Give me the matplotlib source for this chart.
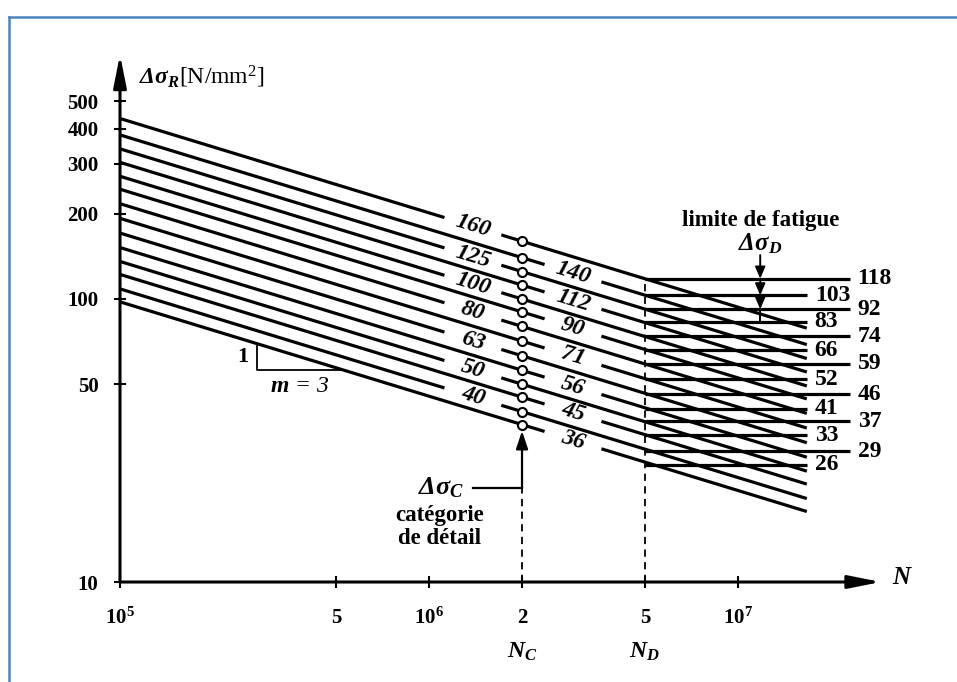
import numpy as np
import matplotlib
matplotlib.use("Agg")
import matplotlib.pyplot as plt
from matplotlib.lines import Line2D
from matplotlib.ticker import NullLocator, FixedLocator, FixedFormatter

plt.rcParams["font.family"] = ["Liberation Serif", "DejaVu Serif"]
plt.rcParams["mathtext.fontset"] = "custom"
plt.rcParams["mathtext.rm"] = "Liberation Serif"
plt.rcParams["mathtext.it"] = "Liberation Serif:italic"
plt.rcParams["mathtext.bf"] = "Liberation Serif:bold"
plt.rcParams["mathtext.bfit"] = "Liberation Serif:italic:bold"

# Detail categories (stress range at N_C) and fatigue limits (stress range at N_D), N/mm2
categories = [160, 140, 125, 112, 100, 90, 80, 71, 63, 56, 50, 45, 40, 36]
fatigue_limits = [118, 103, 92, 83, 74, 66, 59, 52, 46, 41, 37, 33, 29, 26]
left_labelled = [160, 125, 100, 80, 63, 50, 40]
right_labelled = [140, 112, 90, 71, 56, 45, 36]

x_ticks = [1e5, 5e5, 1e6, 2e6, 5e6, 1e7]
x_tick_labels = [r"$\mathbf{10^5}$", "5", r"$\mathbf{10^6}$", "2", "5", r"$\mathbf{10^7}$"]
y_ticks = [10, 50, 100, 200, 300, 400, 500]
y_tick_labels = ["10", "50", "100", "200", "300", "400", "500"]

N_START = 1e5      # start of the S-N lines
N_C = 2e6          # reference number of cycles
N_D = 5e6          # constant amplitude fatigue limit
N_END = 1.67e7     # end of sloped lines and short horizontals
N_LONG = 2.3e7     # end of long horizontals
m = 3              # slope of the S-N lines

LW = 2.3
GAP = 0.092        # half-width of label gaps, in decades


def sn(cat, n):
    return cat * (N_C / np.asarray(n, dtype=float)) ** (1.0 / m)


fig = plt.figure(figsize=(9.57, 6.82), dpi=100)
ax = fig.add_axes([120 / 957, 100 / 682, 772.5 / 957, 566 / 682])
ax.set_xscale("log")
ax.set_yscale("log")
ax.set_xlim(1e5, 10 ** 7.5)
ax.set_ylim(10, 1000)
for s in ax.spines.values():
    s.set_visible(False)
ax.xaxis.set_minor_locator(NullLocator())
ax.yaxis.set_minor_locator(NullLocator())
ax.xaxis.set_major_locator(FixedLocator(x_ticks))
ax.xaxis.set_major_formatter(FixedFormatter(x_tick_labels))
ax.yaxis.set_major_locator(FixedLocator(y_ticks))
ax.yaxis.set_major_formatter(FixedFormatter(y_tick_labels))
ax.tick_params(axis="both", direction="inout", length=9, width=1.5, labelsize=15)
ax.tick_params(axis="x", pad=14)
ax.tick_params(axis="y", pad=11)
for lab in ax.get_xticklabels() + ax.get_yticklabels():
    lab.set_fontweight("bold")

# axes drawn as arrows
arrow = dict(arrowstyle="-|>,head_length=1.4,head_width=0.28", mutation_scale=14,
             lw=2.2, color="k", shrinkA=0, shrinkB=0)
ax.annotate("", xy=(2.9e7, 10), xytext=(1e5, 10), arrowprops=arrow, annotation_clip=False)
ax.annotate("", xy=(1e5, 730), xytext=(1e5, 10), arrowprops=arrow, annotation_clip=False)
ax.text(3.15e7, 10.3, r"$\mathbfit{N}$", fontsize=18, ha="left", va="center")
ax.text(1.15e5, 610, r"$\mathbfit{\Delta\sigma_R}$[N/mm$^2$]", fontsize=17, ha="left", va="center")

# angle of the m=3 lines on screen
p1 = ax.transData.transform((1e6, sn(100, 1e6)))
p2 = ax.transData.transform((1e7, sn(100, 1e7)))
angle = np.degrees(np.arctan2(p2[1] - p1[1], p2[0] - p1[0]))

left_centre = 10 ** 6.142
right_centre = 10 ** 6.466

for cat in categories:
    if cat in left_labelled:
        centre = left_centre
    else:
        centre = right_centre
    lo, hi = centre / 10 ** GAP, centre * 10 ** GAP
    for a, b in [(N_START, lo), (hi, N_END)]:
        n = np.array([a, b])
        ax.plot(n, sn(cat, n), color="k", lw=LW, solid_capstyle="butt", zorder=3)
    ax.text(centre, sn(cat, centre), str(cat), fontsize=17, style="italic", weight="bold",
            rotation=angle, rotation_mode="anchor", ha="center", va="center", zorder=4)
    ax.plot([N_C], [cat], "o", ms=6.5, mfc="white", mec="k", mew=1.5, zorder=5)

# fatigue limits: horizontal cut-offs
for i, lim in enumerate(fatigue_limits):
    end = N_LONG if i % 2 == 0 else N_END
    ax.plot([N_D, end], [lim, lim], color="k", lw=LW, solid_capstyle="butt", zorder=3)
    ax.text(end * 1.06, lim, str(lim), fontsize=17, weight="bold", ha="left", va="center")

# N_C and N_D markers
ax.plot([N_C, N_C], [10, 21.5], color="k", lw=1.3, ls=(0, (4, 3)), zorder=2)
ax.plot([N_D, N_D], [10, fatigue_limits[0]], color="k", lw=1.3, ls=(0, (4, 3)), zorder=2)
ax.plot([1.39e6, N_C], [21.5, 21.5], color="k", lw=1.6, zorder=2)
small_arrow = dict(arrowstyle="-|>,head_length=0.9,head_width=0.3", mutation_scale=12,
                   lw=1.6, color="k", shrinkA=0, shrinkB=0)
ax.annotate("", xy=(N_C, categories[-1] * 0.95), xytext=(N_C, 21.5), arrowprops=small_arrow)
ax.text(1.3e6, 21.5, r"$\mathbfit{\Delta\sigma_C}$", fontsize=19, ha="right", va="center")
ax.text(1.085e6, 17.2, "catégorie", fontsize=16.5, weight="bold", ha="center", va="center")
ax.text(1.085e6, 14.3, "de détail", fontsize=16.5, weight="bold", ha="center", va="center")

trans = ax.get_xaxis_transform()
ax.text(N_C, -0.124, r"$\mathbfit{N_C}$", fontsize=17, ha="center", va="center", transform=trans)
ax.text(N_D, -0.124, r"$\mathbfit{N_D}$", fontsize=17, ha="center", va="center", transform=trans)

# fatigue limit pointer
N_F = 1.18e7
ax.text(N_F, 190, "limite de fatigue", fontsize=16.5, weight="bold", ha="center", va="center")
ax.text(N_F, 157, r"$\mathbfit{\Delta\sigma_D}$", fontsize=18, ha="center", va="center")
tiny_arrow = dict(arrowstyle="-|>,head_length=0.7,head_width=0.3", mutation_scale=10,
                  lw=1.4, color="k", shrinkA=0, shrinkB=0)
ax.annotate("", xy=(N_F, fatigue_limits[0]), xytext=(N_F, 143), arrowprops=tiny_arrow)
ax.annotate("", xy=(N_F, fatigue_limits[1]), xytext=(N_F, fatigue_limits[0]), arrowprops=tiny_arrow)
ax.annotate("", xy=(N_F, fatigue_limits[2]), xytext=(N_F, fatigue_limits[1]), arrowprops=tiny_arrow)
ax.plot([N_F, N_F], [fatigue_limits[2], fatigue_limits[3]], color="k", lw=1.4)

# slope triangle on the lowest line
n_t1, n_t2 = 2.77e5, 2.77e5 * 10 ** 0.278
low = categories[-1]
y_top = sn(low, n_t1)
y_bot = sn(low, n_t2)
ax.plot([n_t1, n_t1, n_t2], [y_top, y_bot, y_bot], color="k", lw=1.3, zorder=2)
ax.annotate("1", xy=(n_t1, np.sqrt(y_top * y_bot)), xytext=(-6, 0), textcoords="offset points",
            fontsize=16, weight="bold", ha="right", va="center")
ax.annotate(r"$\mathbfit{m}$ = 3", xy=(np.sqrt(n_t1 * n_t2), y_bot), xytext=(0, -12),
            textcoords="offset points", fontsize=17, style="italic", ha="center", va="center")

# blue frame
frame = "#4F81BD"
fig.add_artist(Line2D([9 / 957, 9 / 957], [0, 1 - 17 / 682], transform=fig.transFigure,
                      color=frame, lw=1.8))
fig.add_artist(Line2D([9 / 957, 1], [1 - 17 / 682, 1 - 17 / 682], transform=fig.transFigure,
                      color=frame, lw=1.8))

fig.savefig("out.png", dpi=100)
